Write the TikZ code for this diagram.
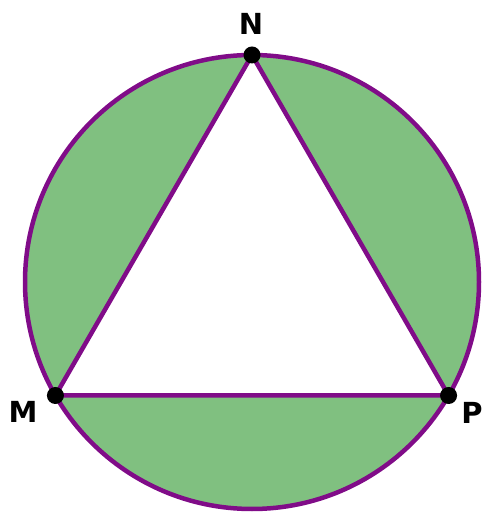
\documentclass[tikz,border=0pt]{standalone}
\usepackage{fontspec}
\setmainfont{DejaVu Sans}
\begin{document}
\begin{tikzpicture}[x=1pt,y=1pt,
  outline/.style={draw=violetline,line width=4.5pt},
  vdot/.style={circle,fill=black,inner sep=0pt,minimum size=17pt},
  lbl/.style={font=\fontsize{29}{33}\selectfont\bfseries}]
\definecolor{violetline}{HTML}{800C88}
\definecolor{segfill}{HTML}{80C080}
\useasboundingbox (0,0) rectangle (484,514);
\coordinate (O) at (252,232);
\path (O) ++(90:227) coordinate (n) (O) ++(210:227) coordinate (m) (O) ++(330:227) coordinate (p);
\fill[segfill] (O) circle (227);
\fill[white] (n) -- (m) -- (p) -- cycle;
\draw[outline] (O) circle (227);
\draw[outline,line join=round] (n) -- (m) -- (p) -- cycle;
\node[vdot] (N) at (n) {};
\node[vdot] (M) at (m) {};
\node[vdot] (P) at (p) {};
\node[lbl] (Nl) at (251,490) {N};
\node[lbl] (Ml) at (23,102) {M};
\node[lbl] (Pl) at (472,101) {P};
\end{tikzpicture}
\end{document}
